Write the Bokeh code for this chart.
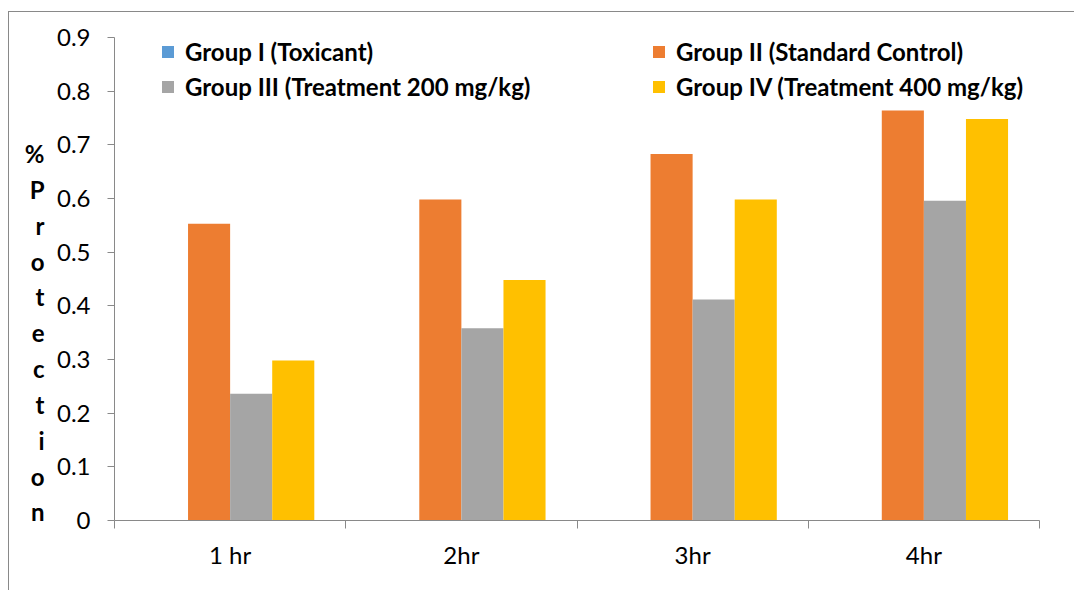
from bokeh.plotting import figure
from bokeh.models import (ColumnDataSource, FixedTicker, Legend, LegendItem, Range1d,
                          LinearAxis)
from bokeh.transform import dodge
from bokeh.embed import file_html
from bokeh.resources import INLINE

categories = ["1 hr", "2hr", "3hr", "4hr"]
group1 = [0, 0, 0, 0]
group2 = [0.553, 0.598, 0.683, 0.764]
group3 = [0.236, 0.358, 0.412, 0.596]
group4 = [0.298, 0.448, 0.598, 0.748]
series_names = ["Group I (Toxicant)", "Group II (Standard Control)",
                "Group III (Treatment 200 mg/kg)", "Group IV (Treatment 400 mg/kg)"]
colors = ["#5B9BD5", "#ED7D31", "#A5A5A5", "#FFC000"]
y_ticks = [0, 0.1, 0.2, 0.3, 0.4, 0.5, 0.6, 0.7, 0.8, 0.9]
y_tick_labels = ["0", "0.1", "0.2", "0.3", "0.4", "0.5", "0.6", "0.7", "0.8", "0.9"]
axis_letters = ["%", "\u00a0P", "r", "o", "t", "e", "c", "t", "i", "o", "n"]

FONT = "Lato"
AX = "#898989"
FS = "24px"

xs = list(range(len(categories)))
src = ColumnDataSource(dict(x=xs, g1=group1, g2=group2, g3=group3, g4=group4))

p = figure(width=1066, height=579, output_backend="svg", toolbar_location=None,
           x_range=Range1d(-0.5, len(categories) - 0.5), y_range=Range1d(0, 0.9),
           min_border_left=105, min_border_right=36, min_border_top=25, min_border_bottom=71)
p.styles = {"margin-left": "8px", "margin-top": "11px",
            "border-left": "1px solid #898989", "border-top": "1px solid #898989"}
p.outline_line_color = None
p.xgrid.grid_line_color = None
p.ygrid.grid_line_color = None

bw = 0.182
offsets = [-1.5 * bw, -0.5 * bw, 0.5 * bw, 1.5 * bw]
renderers = []
for key, off, col in zip(["g1", "g2", "g3", "g4"], offsets, colors):
    r = p.vbar(x=dodge("x", off), top=key, width=bw, source=src,
               fill_color=col, line_color=None)
    renderers.append(r)

# axes
xa = p.xaxis[0]
xa.ticker = FixedTicker(ticks=xs, minor_ticks=[i - 0.5 for i in range(len(categories) + 1)])
xa.major_label_overrides = {i: c for i, c in zip(xs, categories)}
xa.major_tick_line_color = None
xa.major_tick_out = 0
xa.major_tick_in = 0
xa.minor_tick_out = 8
xa.minor_tick_in = 0
xa.minor_tick_line_color = AX
xa.axis_line_color = AX
xa.major_label_text_font = FONT
xa.major_label_text_font_size = FS
xa.major_label_text_color = "#000000"
xa.major_label_standoff = 11

ya = p.yaxis[0]
ya.ticker = FixedTicker(ticks=y_ticks, minor_ticks=[])
ya.major_label_overrides = {t: l for t, l in zip(y_ticks, y_tick_labels)}
ya.major_tick_out = 7
ya.major_tick_in = 0
ya.major_tick_line_color = AX
ya.minor_tick_line_color = None
ya.axis_line_color = AX
ya.major_label_text_font = FONT
ya.major_label_text_font_size = FS
ya.major_label_text_color = "#000000"
ya.major_label_standoff = 17

# stacked vertical axis title on an invisible outer axis;
# three leading blank lines push the stack down to where the reference has it
title_text = "\n".join(["\u00a0"] * 3 + axis_letters)
title_axis = LinearAxis(ticker=FixedTicker(ticks=[], minor_ticks=[]),
                        axis_line_color=None, major_tick_line_color=None,
                        minor_tick_line_color=None, major_label_text_font_size="0px",
                        major_tick_out=0, major_tick_in=0, minor_tick_out=0, minor_tick_in=0,
                        major_label_standoff=0,
                        axis_label=title_text, axis_label_orientation="horizontal",
                        axis_label_text_font=FONT, axis_label_text_font_size=FS,
                        axis_label_text_font_style="bold", axis_label_text_color="#000000",
                        axis_label_text_line_height=1.236,
                        axis_label_standoff=9)
p.add_layout(title_axis, "left")

# legends (two columns)
def make_legend(idx, loc):
    lg = Legend(items=[LegendItem(label=series_names[i], renderers=[renderers[i]]) for i in idx],
                location=loc, orientation="vertical",
                label_text_font=FONT, label_text_font_size=FS,
                label_text_font_style="bold", label_text_color="#000000",
                glyph_width=15, glyph_height=15, label_height=29, label_standoff=10,
                spacing=6, padding=0, margin=0,
                border_line_color=None, background_fill_alpha=0)
    p.add_layout(lg, "center")

make_legend([0, 2], (46, 419))
make_legend([1, 3], (537, 419))

open("out.html", "w").write(file_html(p, INLINE))
